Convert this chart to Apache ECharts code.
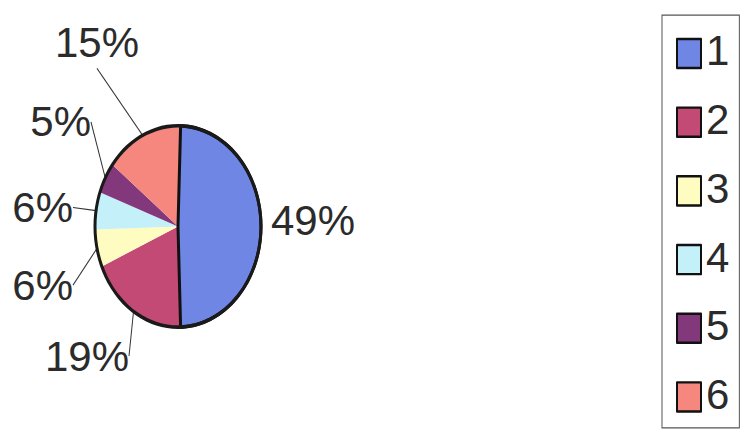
<!DOCTYPE html>
<html>
<head>
<meta charset="utf-8">
<script src="https://cdn.jsdelivr.net/npm/echarts@6/dist/echarts.min.js"></script>
<style>
  html, body { margin: 0; padding: 0; background: #ffffff; overflow: hidden; }
  #wrap { width: 741px; height: 432px; position: relative; }
  /* The plot layer is drawn squat and stretched vertically, giving the oval pie */
  #chart { position: absolute; left: 0; top: 0; width: 741px; height: 356px;
           transform-origin: 0 0; transform: scaleY(1.2134831); }
</style>
</head>
<body>
<div id="wrap"><div id="chart"></div></div>
<script>
// ---- data ----
const categories = ['1', '2', '3', '4', '5', '6'];
const shares = [49, 19, 6, 6, 5, 15];

// ---- styling ----
const sliceColors = ['#6f86e4', '#c44a76', '#fffcc2', '#c4f0fa', '#84387c', '#f5877f'];
// label anchor (x, y in plot-layer pixels) and text alignment per slice
const labelSpots = [
  [271, 181.3, 'left'],
  [129, 293.4, 'right'],
  [73, 234.9, 'right'],
  [73, 171.0, 'right'],
  [91, 100.5, 'right'],
  [139, 35.4, 'right']
];
const STRETCH = 432 / 356;
const FONT = "'Liberation Sans', Arial, Helvetica, sans-serif";
const INK = '#2b2b2b';
const PIE_CENTER = [178, 186.6];
const PIE_R = 83;
const START = 88.2;

const chart = echarts.init(document.getElementById('chart'), null, { renderer: 'svg' });

const pieData = categories.map(function (name, i) {
  const item = {
    name: name,
    value: shares[i],
    itemStyle: { color: sliceColors[i], borderWidth: 0 }
  };
  if (i === 0) item.labelLine = { show: false };
  return item;
});

// outline layer: only the first slice gets a dark edge, drawn above every fill
const edgeData = categories.map(function (name, i) {
  return {
    name: name,
    value: shares[i],
    itemStyle: i === 0
      ? { color: 'rgba(0,0,0,0)', borderColor: '#111111', borderWidth: 3 }
      : { color: 'rgba(0,0,0,0)', borderWidth: 0 }
  };
});

const option = {
  animation: false,
  backgroundColor: '#ffffff',
  legend: {
    data: categories,
    orient: 'vertical',
    left: 662,
    top: 12.4,
    padding: [10.7, 10, 4.5, 14],
    itemWidth: 24,
    itemHeight: 24,
    itemGap: 14.6,
    icon: 'rect',
    selectedMode: false,
    borderColor: '#555555',
    borderWidth: 1,
    itemStyle: { borderColor: '#111111', borderWidth: 2 },
    textStyle: { fontSize: 42, color: INK, fontFamily: FONT }
  },
  series: [
    {
      type: 'pie',
      center: PIE_CENTER,
      radius: [0, PIE_R],
      startAngle: START,
      clockwise: true,
      avoidLabelOverlap: false,
      silent: true,
      data: pieData,
      label: {
        show: true,
        position: 'outside',
        formatter: '{c}%',
        fontSize: 42,
        lineHeight: 35,
        color: INK,
        fontFamily: FONT
      },
      labelLine: {
        show: true,
        length: 8,
        length2: 0,
        smooth: false,
        lineStyle: { color: '#333333', width: 1 }
      },
      labelLayout: function (params) {
        const spot = labelSpots[params.dataIndex];
        return { x: spot[0], y: spot[1], align: spot[2], verticalAlign: 'middle' };
      }
    },
    {
      type: 'pie',
      center: PIE_CENTER,
      radius: [0, PIE_R],
      startAngle: START,
      clockwise: true,
      silent: true,
      label: { show: false },
      labelLine: { show: false },
      data: edgeData
    },
    {
      // dark rim round the whole pie
      type: 'pie',
      center: PIE_CENTER,
      radius: [PIE_R - 1.5, PIE_R + 1.5],
      silent: true,
      label: { show: false },
      labelLine: { show: false },
      itemStyle: { color: '#1a1a1a', borderWidth: 0 },
      data: [{ name: '', value: 1 }]
    }
  ]
};

chart.setOption(option);

// Text glyphs are kept at their natural height while the plot layer is stretched.
const zr = chart.getZr();
function uprightText() {
  zr.storage.getDisplayList(true).forEach(function (el) {
    if (el.type === 'tspan' && el.scaleY !== 1 / STRETCH) {
      el.scaleY = 1 / STRETCH;
      el.markRedraw();
    }
  });
  zr.refreshImmediately();
}
uprightText();
chart.on('finished', uprightText);
</script>
</body>
</html>
